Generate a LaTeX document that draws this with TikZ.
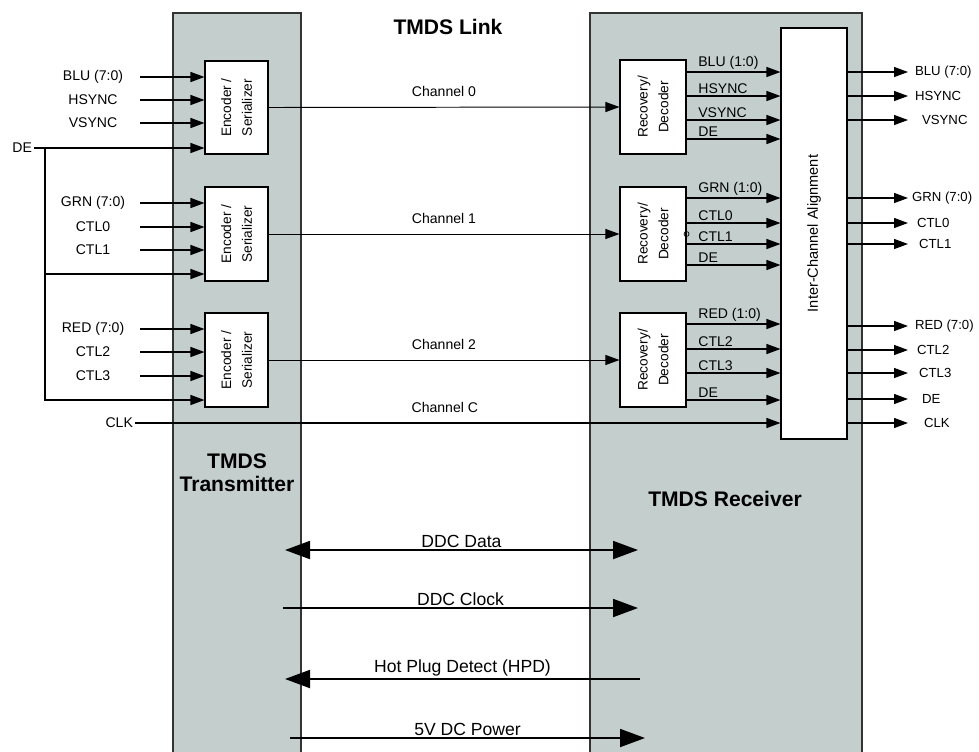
\documentclass[tikz,border=0pt]{standalone}
\usepackage{fontspec}
\setmainfont{Liberation Sans}
\usepackage{tikz}
\usetikzlibrary{arrows.meta, positioning, fit, calc}
\definecolor{panelgray}{RGB}{196,207,205}

\begin{document}
\begin{tikzpicture}[
  x=0.02cm, y=-0.02cm,
  >={Triangle[length=0.5cm, width=0.36cm]},
  panel/.style={rectangle, draw=black!80, fill=panelgray, line width=0.7pt, inner sep=0},
  block/.style={rectangle, draw, fill=white, line width=0.6pt, inner sep=0},
  vtext/.style={rotate=90, align=center, font=\fontsize{7.8}{11.8}\selectfont},
  sig/.style={font=\fontsize{8}{9}\selectfont, inner sep=1pt},
  outsig/.style={font=\fontsize{7.5}{9}\selectfont, inner sep=1pt, anchor=west},
  title/.style={font=\fontsize{12}{13}\selectfont\bfseries, align=center},
  linkfont/.style={font=\fontsize{10}{12}\selectfont, inner sep=1pt},
  arr/.style={-{Triangle[length=0.28cm, width=0.2cm]}, line width=0.75pt},
  chan/.style={arr, line width=0.55pt},
  link/.style={line width=1.1pt},
]
\path[use as bounding box, fill=white] (0,0) rectangle (979,751);

\node[panel, fit={(173,13) (301,760)}] (tx) {};
\node[panel, fit={(590,13) (862,760)}] (rx) {};

\node[title] (linkttl) at (448,27) {TMDS Link};
\node[title] (txttl) at (237,473) {TMDS\\Transmitter};
\node[title] (rxttl) at (725,499) {TMDS Receiver};

\node[block, fit={(205,61) (268,154)}, label={[vtext]center:{Encoder /\\Serializer}}] (enc1) {};
\node[block, fit={(205,187) (268,281)}, label={[vtext]center:{Encoder /\\Serializer}}] (enc2) {};
\node[block, fit={(205,313) (268,407)}, label={[vtext]center:{Encoder /\\Serializer}}] (enc3) {};
\node[block, fit={(620,60) (686,154)}, label={[vtext]center:{Recovery/\\Decoder}}] (dec1) {};
\node[block, fit={(620,187) (686,281)}, label={[vtext]center:{Recovery/\\Decoder}}] (dec2) {};
\node[block, fit={(620,313) (686,407)}, label={[vtext]center:{Recovery/\\Decoder}}] (dec3) {};
\node[block, fit={(781,28) (847,439)}, label={[vtext, font=\fontsize{8.3}{10}\selectfont]center:Inter-Channel Alignment}] (align) {};
\draw[line width=0.4pt] (dec2.east) circle (2.5);

\foreach \y/\t/\n/\b in {77/BLU (7:0)/blu/enc1, 100/HSYNC/hs/enc1, 123/VSYNC/vs/enc1,
    203/GRN (7:0)/grn/enc2, 227/CTL0/cz/enc2, 250/CTL1/co/enc2,
    329/RED (7:0)/red/enc3, 352/CTL2/ct/enc3, 376/CTL3/cth/enc3} {
  \node[sig] (i\n) at (93,\y) {\t};
  \coordinate (s\n) at (140,\y);
  \draw[arr] (s\n) -- (s\n -| \b.west);
}

\node[sig, anchor=east] (ide) at (34,148) {DE};
\coordinate (detap) at (45,148);
\coordinate (de2) at (45,274);
\coordinate (de3) at (45,400);
\draw[arr] (ide.east) -- (ide.east -| enc1.west);
\draw[arr] (detap) -- (de3) -- (de3 -| enc3.west);
\draw[arr] (de2) -- (de2 -| enc2.west);

\node[sig, anchor=east] (iclk) at (135,423) {CLK};
\draw[arr] (iclk.east) -- node[sig, above=0.16cm, pos=0.48] (chc) {Channel C} (iclk.east -| align.west);

\draw[chan] (enc1.east) -- node[sig, above=0.16cm] (ch0) {Channel 0} (dec1.west);
\draw[chan] (enc2.east) -- node[sig, above=0.16cm] (ch1) {Channel 1} (dec2.west);
\draw[chan] (enc3.east) -- node[sig, above=0.16cm] (ch2) {Channel 2} (dec3.west);

\foreach \y/\t/\n/\b in {72/BLU (1:0)/blu/dec1, 96/HSYNC/hs/dec1, 120/VSYNC/vs/dec1, 139/DE/dea/dec1,
    198/GRN (1:0)/grn/dec2, 223/CTL0/cz/dec2, 244/CTL1/co/dec2, 265/DE/deb/dec2,
    324/RED (1:0)/red/dec3, 349/CTL2/ct/dec3, 373/CTL3/cth/dec3, 400/DE/dec/dec3} {
  \coordinate (r\n) at (700,\y);
  \draw[arr] (\b.east |- r\n) -- node[sig, pos=0.1, anchor=south west] (d\n) {\t} (align.west |- r\n);
}

\foreach \y/\x/\t/\n in {72/913/BLU (7:0)/blu, 96/913/HSYNC/hs, 120/920/VSYNC/vs,
    198/910/GRN (7:0)/grn, 223/915/CTL0/cz, 244/917/CTL1/co,
    326/913/RED (7:0)/red, 350/915/CTL2/ct, 373/917/CTL3/cth, 399/920/DE/de, 423/922/CLK/clk} {
  \coordinate (o\n) at (908,\y);
  \node[outsig] (l\n) at (\x,\y) {\t};
  \draw[arr] (align.east |- o\n) -- (o\n);
}

\coordinate (ddl) at (285,550);
\coordinate (ddr) at (638,550);
\coordinate (dcl) at (283,608);
\coordinate (dcr) at (638,608);
\coordinate (hpl) at (285,679);
\coordinate (hpr) at (640,679);
\coordinate (pwl) at (290,738);
\coordinate (pwr) at (645,738);
\draw[link, <->] (ddl) -- node[linkfont, above] (ddata) {DDC Data} (ddr);
\draw[link, ->] (dcl) -- node[linkfont, above] (dclk) {DDC Clock} (dcr);
\draw[link, ->] (hpr) -- node[linkfont, above] (hpd) {Hot Plug Detect (HPD)} (hpl);
\draw[link, ->] (pwl) -- node[linkfont, above] (pwr5) {5V DC Power} (pwr);
\end{tikzpicture}
\end{document}
